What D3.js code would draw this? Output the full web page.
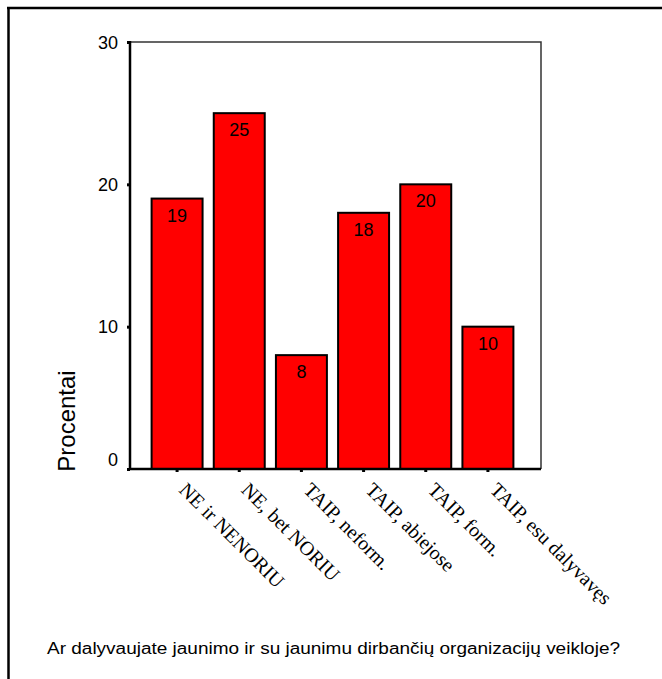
<!DOCTYPE html>
<html>
<head>
<meta charset="utf-8">
<script src="https://cdn.jsdelivr.net/npm/d3@7"></script>
<style>
  html, body { margin: 0; padding: 0; background: #fff; }
  svg { display: block; }
</style>
</head>
<body>
<svg id="chart" width="662" height="679"></svg>
<script>
const categories = ["NE ir NENORIU", "NE, bet NORIU", "TAIP, neform.", "TAIP, abiejose", "TAIP, form.", "TAIP, esu dalyvavęs"];
const values = [19, 25, 8, 18, 20, 10];
const yTicks = [0, 10, 20, 30];
const yTitle = "Procentai";
const xTitle = "Ar dalyvaujate jaunimo ir su jaunimu dirbančių organizacijų veikloje?";

const svg = d3.select("#chart");

// outer frame (top and left lines)
svg.append("line").attr("x1", 7).attr("y1", 8).attr("x2", 662).attr("y2", 8)
  .attr("stroke", "#000").attr("stroke-width", 2.5);
svg.append("line").attr("x1", 8.5).attr("y1", 7).attr("x2", 8.5).attr("y2", 679)
  .attr("stroke", "#000").attr("stroke-width", 2.5);

const plot = { left: 130, right: 541, top: 42, bottom: 469 };

const y = d3.scaleLinear().domain([0, 30]).range([plot.bottom, plot.top]);
const x = d3.scaleBand().domain(categories).range([146, 519])
  .paddingInner(0.18).paddingOuter(0.09);

// plot frame top & right
svg.append("path")
  .attr("d", `M${plot.left},${plot.top}H${plot.right}V${plot.bottom}`)
  .attr("fill", "none").attr("stroke", "#333").attr("stroke-width", 1.5);

// bars
svg.append("g").selectAll("rect").data(values).join("rect")
  .attr("x", (d, i) => x(categories[i]))
  .attr("y", d => y(d))
  .attr("width", x.bandwidth())
  .attr("height", d => y(0) - y(d))
  .attr("fill", "#ff0000")
  .attr("stroke", "#000")
  .attr("stroke-width", 2);

// bar value labels
svg.append("g").selectAll("text").data(values).join("text")
  .attr("x", (d, i) => x(categories[i]) + x.bandwidth() / 2)
  .attr("y", d => y(d) + 23)
  .attr("text-anchor", "middle")
  .attr("font-family", "Arial, 'Liberation Sans', sans-serif")
  .attr("font-size", 18)
  .attr("fill", "#000")
  .text(d => d);

// y axis
const yAxis = svg.append("g")
  .attr("transform", `translate(${plot.left},0)`)
  .call(d3.axisLeft(y).tickValues(yTicks).tickSize(3).tickPadding(9).tickFormat(d3.format("d")));
yAxis.select(".domain").attr("stroke", "#000").attr("stroke-width", 2.5)
  .attr("d", `M0,${plot.top - 1}V${plot.bottom}`);
yAxis.selectAll(".tick line").attr("stroke", "#000").attr("stroke-width", 3);
yAxis.selectAll(".tick text")
  .attr("font-family", "Arial, 'Liberation Sans', sans-serif")
  .attr("font-size", 18).attr("fill", "#000")
  .attr("dy", d => d === 0 ? "-0.2em" : "0.35em");

// x axis
const xAxis = svg.append("g")
  .attr("transform", `translate(0,${plot.bottom})`)
  .call(d3.axisBottom(x).tickSize(3).tickPadding(0));
xAxis.select(".domain").attr("stroke", "#000").attr("stroke-width", 2.5)
  .attr("d", `M${plot.left - 1},0H${plot.right}`);
xAxis.selectAll(".tick line").attr("stroke", "#000").attr("stroke-width", 3);
xAxis.selectAll(".tick text")
  .attr("font-family", "'Times New Roman', 'Liberation Serif', serif")
  .attr("font-size", 20).attr("fill", "#000")
  .attr("text-anchor", "start")
  .attr("dy", null)
  .attr("y", 0)
  .attr("transform", "translate(1,22) rotate(45)");

// y title
svg.append("text")
  .attr("transform", "translate(75,421) rotate(-90)")
  .attr("text-anchor", "middle")
  .attr("font-family", "Arial, 'Liberation Sans', sans-serif")
  .attr("font-size", 24)
  .attr("fill", "#000")
  .text(yTitle);

// x title
svg.append("text")
  .attr("x", 47).attr("y", 654)
  .attr("font-family", "Arial, 'Liberation Sans', sans-serif")
  .attr("font-size", 16)
  .attr("fill", "#000")
  .attr("textLength", 573)
  .attr("lengthAdjust", "spacingAndGlyphs")
  .text(xTitle);
</script>
</body>
</html>
